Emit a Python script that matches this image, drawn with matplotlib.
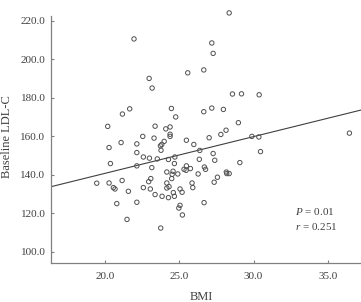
import matplotlib
matplotlib.use("Agg")
import matplotlib.pyplot as plt

bmi = [21.95, 22.97, 23.17, 25.57, 26.65, 21.66, 21.17, 24.47, 24.76, 26.65,
       20.18, 23.37, 24.38, 24.09, 28.36, 27.19, 27.28, 28.58, 29.19, 30.38,
       27.19, 27.97, 28.98, 28.15, 27.01, 27.80, 29.89, 30.36, 36.46, 30.47,
       27.28, 27.39, 29.08, 26.69, 26.77, 28.17, 28.36, 28.20, 27.57, 27.35,
       26.67, 24.38, 24.38, 22.54, 23.30, 25.48, 21.08, 22.14, 23.98, 23.82,
       23.73, 25.98, 20.27, 23.77, 22.14, 26.38, 22.58, 22.99, 23.52, 24.27,
       24.70, 26.35, 20.36, 24.67, 22.14, 23.15, 25.48, 25.32, 25.75, 25.46,
       24.16, 24.58, 24.90, 24.52, 26.27, 21.15, 19.44, 20.27, 20.56, 20.67,
       23.08, 22.94, 24.49, 24.16, 24.31, 24.16, 22.58, 23.05, 25.05, 25.86,
       25.91, 21.57, 24.60, 25.19, 23.37, 23.84, 24.27, 24.67, 20.79, 22.14,
       25.05, 24.97, 25.21, 21.48, 23.75]
ldl = [210.5, 190.0, 185.0, 192.9, 194.4, 174.2, 171.5, 174.4, 170.0, 172.7,
       165.1, 165.2, 164.8, 163.8, 224.0, 208.4, 203.0, 181.9, 182.0, 181.5,
       174.6, 173.9, 167.0, 163.1, 159.2, 160.9, 159.9, 159.6, 161.6, 152.0,
       151.0, 147.5, 146.3, 144.0, 142.8, 141.4, 140.6, 140.6, 138.7, 136.1,
       125.5, 161.0, 159.9, 159.9, 159.0, 157.9, 156.7, 156.0, 157.3, 155.7,
       155.0, 155.7, 154.1, 152.7, 151.5, 152.6, 149.2, 148.6, 148.2, 147.9,
       149.2, 148.0, 145.8, 145.8, 144.6, 143.7, 144.6, 142.8, 143.2, 142.3,
       141.4, 141.8, 140.4, 140.2, 140.4, 137.0, 135.6, 135.7, 133.3, 132.6,
       138.0, 136.4, 138.0, 135.7, 133.8, 133.1, 133.3, 132.6, 132.6, 135.7,
       133.3, 131.4, 130.7, 130.9, 129.7, 128.8, 128.1, 128.8, 125.0, 125.7,
       124.1, 122.7, 119.1, 116.8, 112.3]

fit_intercept = 102.6
fit_slope = 1.906
x_range = [16.36, 37.24]
y_range = [94.3, 222.4]
x_ticks = [20.0, 25.0, 30.0, 35.0]
y_ticks = [100.0, 120.0, 140.0, 160.0, 180.0, 200.0, 220.0]

plt.rcParams["font.family"] = ["Liberation Serif", "DejaVu Serif"]
plt.rcParams["mathtext.fontset"] = "custom"
plt.rcParams["mathtext.rm"] = "Liberation Serif"
plt.rcParams["mathtext.it"] = "Liberation Serif:italic"
text_color = "#404040"
axis_color = "#808080"

fig = plt.figure(figsize=(3.61, 3.02), dpi=100)
ax = fig.add_axes([0.1413, 0.130, 0.8587, 0.817])

ax.scatter(bmi, ldl, s=10, facecolors="none", edgecolors="#505050",
           linewidths=0.7, clip_on=False, zorder=3)
fit_y = [fit_intercept + fit_slope * x for x in x_range]
ax.plot(x_range, fit_y, color="#404040", linewidth=0.8)

ax.set_xlim(x_range)
ax.set_ylim(y_range)
ax.set_xticks(x_ticks)
ax.set_yticks(y_ticks)
ax.set_xticklabels(["%.1f" % v for v in x_ticks])
ax.set_yticklabels(["%.1f" % v for v in y_ticks])

for side in ["top", "right"]:
    ax.spines[side].set_visible(False)
for side in ["left", "bottom"]:
    ax.spines[side].set_color(axis_color)
    ax.spines[side].set_linewidth(0.9)

ax.tick_params(axis="both", direction="in", length=2.5, width=0.8,
               color=axis_color, labelsize=8, labelcolor=text_color)
ax.tick_params(axis="x", pad=7)
ax.tick_params(axis="y", pad=4)

ax.set_xlabel("BMI", fontsize=9, color=text_color)
ax.set_ylabel("Baseline LDL-C", fontsize=9, color=text_color)
ax.xaxis.set_label_coords(0.486, -0.115)
ax.yaxis.set_label_coords(-0.123, 0.51)

ax.text(0.787, 0.207, "$P$ = 0.01", transform=ax.transAxes, fontsize=8,
        color=text_color, va="center", ha="left")
ax.text(0.787, 0.146, "$r$ = 0.251", transform=ax.transAxes, fontsize=8,
        color=text_color, va="center", ha="left")

fig.savefig("out.png", dpi=100)
